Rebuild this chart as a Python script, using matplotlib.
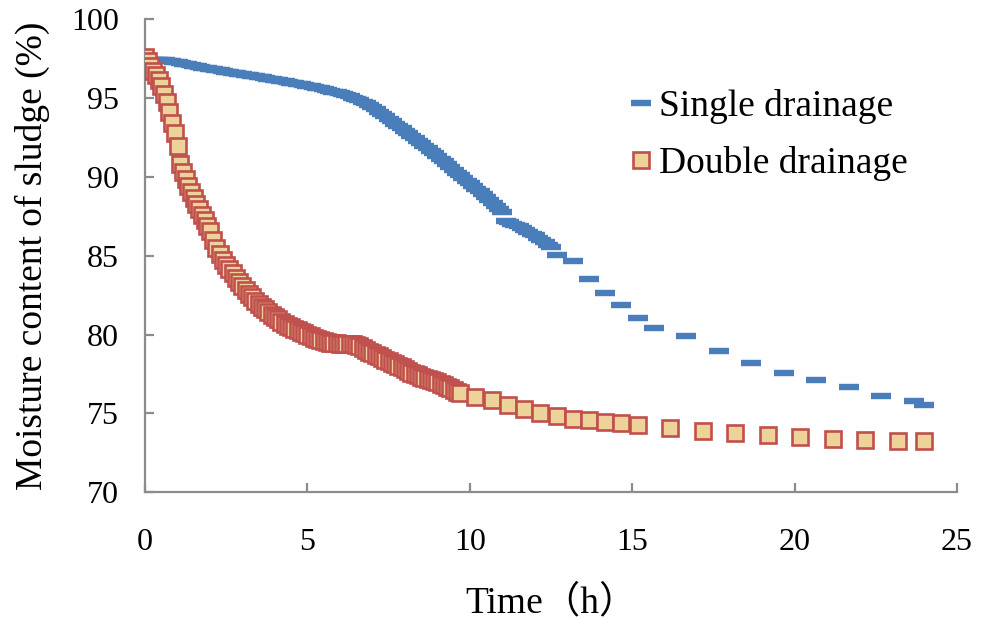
import numpy as np
import matplotlib
matplotlib.use("Agg")
import matplotlib.pyplot as plt

plt.rcParams['font.family'] = ['Liberation Serif', 'Noto Sans CJK SC']

# ---- Single drainage: dense logging (0.1 h) then sparse readings ----
single_dense_t = np.round(np.arange(0, 12.55, 0.1), 2)
single_dense_v = [
    97.50, 97.48, 97.46, 97.45, 97.44, 97.42, 97.40, 97.38, 97.36, 97.33,
    97.30, 97.25, 97.20, 97.15, 97.10, 97.06, 97.02, 96.98, 96.94, 96.90,
    96.86, 96.83, 96.80, 96.77, 96.74, 96.70, 96.67, 96.63, 96.60, 96.56,
    96.52, 96.49, 96.46, 96.42, 96.39, 96.35, 96.32, 96.28, 96.24, 96.20,
    96.16, 96.13, 96.10, 96.07, 96.03, 96.00, 95.96, 95.92, 95.88, 95.84,
    95.80, 95.76, 95.72, 95.68, 95.64, 95.60, 95.55, 95.49, 95.43, 95.37,
    95.31, 95.25, 95.19, 95.12, 95.05, 94.97, 94.88, 94.78, 94.67, 94.55,
    94.43, 94.29, 94.15, 94.00, 93.85, 93.70, 93.55, 93.40, 93.25, 93.10,
    92.95, 92.79, 92.63, 92.47, 92.31, 92.15, 91.99, 91.83, 91.67, 91.51,
    91.35, 91.17, 90.99, 90.81, 90.63, 90.45, 90.28, 90.11, 89.94, 89.77,
    89.60, 89.43, 89.26, 89.09, 88.92, 88.75, 88.56, 88.37, 88.18, 87.99,
    87.80, 87.20, 87.12, 87.05, 86.97, 86.90, 86.78, 86.66, 86.54, 86.42,
    86.30, 86.15, 86.00, 85.85, 85.70, 85.55,
]
single_sparse_t = [12.67, 13.17, 13.67, 14.17, 14.67, 15.17, 15.67, 16.67,
                   17.67, 18.67, 19.67, 20.67, 21.67, 22.67, 23.67, 24.0]
single_sparse_v = [85.06, 84.66, 83.54, 82.67, 81.87, 81.04, 80.44, 79.93,
                   78.96, 78.22, 77.56, 77.10, 76.65, 76.12, 75.80, 75.51]

# ---- Double drainage: 5-min logging, then 0.1 h, then sparse readings ----
double_early_t = np.round(np.arange(0, 2.01, 1 / 12), 3)
double_early_v = [
    97.60, 97.35, 97.05, 96.75, 96.45, 96.15, 95.78, 95.30, 94.75, 94.10,
    93.45, 92.80, 91.95, 90.80, 90.30, 89.85, 89.45, 89.05, 88.65, 88.30,
    87.95, 87.60, 87.25, 86.90, 86.55,
]
double_mid_t = np.round(np.arange(2.1, 9.75, 0.1), 2)
double_mid_v = [
    86.00, 85.50, 85.10, 84.75, 84.45, 84.15, 83.90, 83.62, 83.35, 83.10,
    82.85, 82.60, 82.38, 82.16, 81.96, 81.77, 81.60, 81.44, 81.28, 81.12,
    80.97, 80.83, 80.70, 80.58, 80.47, 80.37, 80.27, 80.17, 80.08, 80.00,
    79.90, 79.80, 79.72, 79.65, 79.59, 79.54, 79.50, 79.47, 79.45, 79.43,
    79.41, 79.40, 79.39, 79.38, 79.35, 79.26, 79.14, 79.02, 78.91, 78.81,
    78.72, 78.62, 78.52, 78.42, 78.32, 78.22, 78.12, 78.02, 77.92, 77.82,
    77.71, 77.60, 77.50, 77.42, 77.34, 77.27, 77.21, 77.14, 77.07, 77.00,
    76.90, 76.80, 76.70, 76.60, 76.50, 76.38, 76.28,
]
double_sparse_t = [10.17, 10.67, 11.17, 11.67, 12.17, 12.67, 13.17, 13.67,
                   14.17, 14.67, 15.17, 16.17, 17.17, 18.17, 19.17, 20.17,
                   21.17, 22.17, 23.17, 24.0]
double_sparse_v = [76.07, 75.86, 75.53, 75.28, 75.06, 74.85, 74.68, 74.56,
                   74.45, 74.37, 74.26, 74.05, 73.88, 73.77, 73.66, 73.50,
                   73.35, 73.31, 73.24, 73.24]

single_t = np.concatenate([single_dense_t, single_sparse_t])
single_v = np.concatenate([single_dense_v, single_sparse_v])
double_t = np.concatenate([double_early_t, double_mid_t, double_sparse_t])
double_v = np.concatenate([double_early_v, double_mid_v, double_sparse_v])

x_ticks = [0, 5, 10, 15, 20, 25]
y_ticks = [70, 75, 80, 85, 90, 95, 100]

BLUE = '#4A7EBB'
RED = '#C0504D'
SAND = '#EDD29A'
AXIS_GREY = '#8C8C8C'

fig = plt.figure(figsize=(9.88, 6.19), dpi=100)
ax = fig.add_axes([0.1468, 0.2047, 0.8218, 0.7638])

ax.plot(single_t, single_v, linestyle='none', marker='_', markersize=14,
        markeredgewidth=4.6, color=BLUE, label='Single drainage', zorder=2)
ax.plot(double_t, double_v, linestyle='none', marker='s', markersize=11.5,
        markeredgewidth=1.9, markeredgecolor=RED, markerfacecolor=SAND,
        label='Double drainage', zorder=3)

ax.set_xlim(0, 25)
ax.set_ylim(70, 100)
ax.set_xticks(x_ticks)
ax.set_yticks(y_ticks)

for side in ('top', 'right'):
    ax.spines[side].set_visible(False)
for side in ('left', 'bottom'):
    ax.spines[side].set_color(AXIS_GREY)
    ax.spines[side].set_linewidth(1.6)

ax.tick_params(axis='both', direction='in', length=6.5, width=1.6,
               color=AXIS_GREY, labelsize=23, labelcolor='black')
ax.tick_params(axis='x', pad=26)
ax.tick_params(axis='y', pad=19)

ax.set_xlabel('Time（h）', fontsize=27, labelpad=20)
ax.set_ylabel('Moisture content of sludge (%)', fontsize=27, labelpad=15)

ax.legend(loc='upper left', bbox_to_anchor=(0.578, 0.885), frameon=False,
          fontsize=27, numpoints=1, handlelength=0.6, handletextpad=0.2,
          labelspacing=0.6, borderaxespad=0)

fig.savefig('out.png', dpi=100)
